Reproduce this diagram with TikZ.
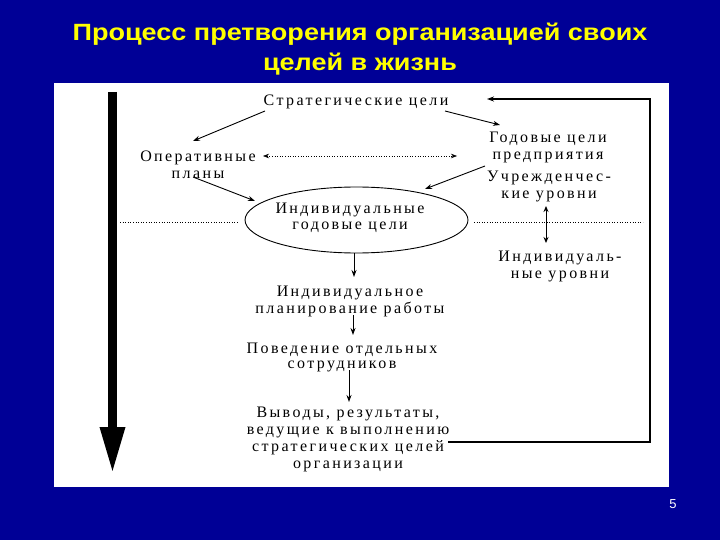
\documentclass[tikz,border=0pt]{standalone}
\usepackage{fontspec}
\setmainfont{Liberation Serif}[LetterSpace=15]
\newfontfamily\titlefont{Liberation Sans}[FakeStretch=1.15]
\newfontfamily\numfont{Liberation Sans}
\usetikzlibrary{arrows.meta,shapes.geometric}
\definecolor{slideblue}{RGB}{0,0,150}
\definecolor{titleyellow}{RGB}{255,255,0}
\begin{document}
\begin{tikzpicture}[x=1pt,y=-1pt,
  lbl/.style={align=center,font=\fontsize{16}{16.5}\selectfont,inner sep=0pt},
  conn/.style={line width=0.9pt,-{Stealth[length=7pt,width=5pt]}},
  dots/.style={line width=0.6pt,dotted}]
\fill[slideblue] (0,0) rectangle (720,540);
\useasboundingbox (0,0) rectangle (720,540);
\fill[white] (54,83) rectangle (669,487);
% title
\node[font=\titlefont\bfseries\fontsize{23.5}{30}\selectfont,text=titleyellow,align=center] (title) at (360,49.5)
  {Процесс претворения организацией своих\\целей в жизнь};
\node[font=\numfont\fontsize{13}{15}\selectfont,text=white] (pg) at (673,504) {5};
% thick time arrow
\coordinate (ta) at (112.5,92);
\coordinate (tb) at (112.5,474);
\draw[line width=9pt,-{Triangle[length=47pt,width=23pt]}] (ta) -- (tb);
% nodes
\node[lbl] (strat) at (356,102) {Стратегические цели};
\node[lbl] (god) at (548,147.5) {Годовые цели\\предприятия};
\node[lbl,font=\fontsize{16}{16.5}\selectfont] (oper) at (198,165) {Оперативные\\планы};
\node[lbl] (uchr) at (549,186.5) {Учрежденчес-\\кие уровни};
\node[draw,ellipse,line width=0.9pt,minimum width=223pt,minimum height=66pt,inner sep=0pt] (ell) at (356.5,220) {};
\node[lbl] at (350,218) (indg) {Индивидуальные\\годовые цели};
\node[lbl] (indu) at (560,266.5) {Индивидуаль-\\ные уровни};
\node[lbl] (plan) at (350,301.5) {Индивидуальное\\планирование работы};
\node[lbl,font=\fontsize{16}{15.5}\selectfont] (behav) at (342,357.5) {Поведение отдельных\\сотрудников};
\node[lbl,font=\fontsize{16}{16.7}\selectfont] (res) at (348,439.5) {Выводы, результаты,\\ведущие к выполнению\\стратегических целей\\организации};
% connectors
\coordinate (s1) at (265,111);
\coordinate (o1) at (193,141);
\draw[conn] (s1) -- (o1);
\coordinate (s2) at (445,111);
\coordinate (g1) at (500,125);
\draw[conn] (s2) -- (g1);
\coordinate (o2) at (193,177);
\coordinate (e1) at (255,201);
\draw[conn] (o2) -- (e1);
\coordinate (g2) at (485,166);
\coordinate (e2) at (425,189);
\draw[conn] (g2) -- (e2);
\coordinate (d1) at (263,156);
\coordinate (d2) at (457,156);
\draw[dots,{Stealth[length=6pt,width=4.5pt]}-{Stealth[length=6pt,width=4.5pt]}] (d1) -- (d2);
% horizontal dotted divider
\coordinate (h1) at (120,222);
\coordinate (h2) at (239,222);
\coordinate (h3) at (474,222);
\coordinate (h4) at (643,222);
\draw[dots] (h1) -- (h2);
\draw[dots] (h3) -- (h4);
% double arrow levels
\coordinate (v1) at (546,206);
\coordinate (v2) at (546,243);
\draw[line width=1pt,{Stealth[length=6pt,width=5pt]}-{Stealth[length=6pt,width=5pt]}] (v1) -- (v2);
% vertical chain
\coordinate (c1) at (354,253);
\coordinate (c2) at (354,277);
\draw[conn] (c1) -- (c2);
\coordinate (c3) at (353,315);
\coordinate (c4) at (353,335);
\draw[conn] (c3) -- (c4);
\coordinate (c5) at (349,370);
\coordinate (c6) at (349,402);
\draw[conn] (c5) -- (c6);
% feedback
\coordinate (f1) at (448,442);
\coordinate (f2) at (650,442);
\coordinate (f3) at (650,99);
\coordinate (f4) at (487,99);
\draw[line width=1.3pt,-{Stealth[length=7pt,width=5pt]}] (f1) -- (f2) -- (f3) -- (f4);
\end{tikzpicture}
\end{document}
